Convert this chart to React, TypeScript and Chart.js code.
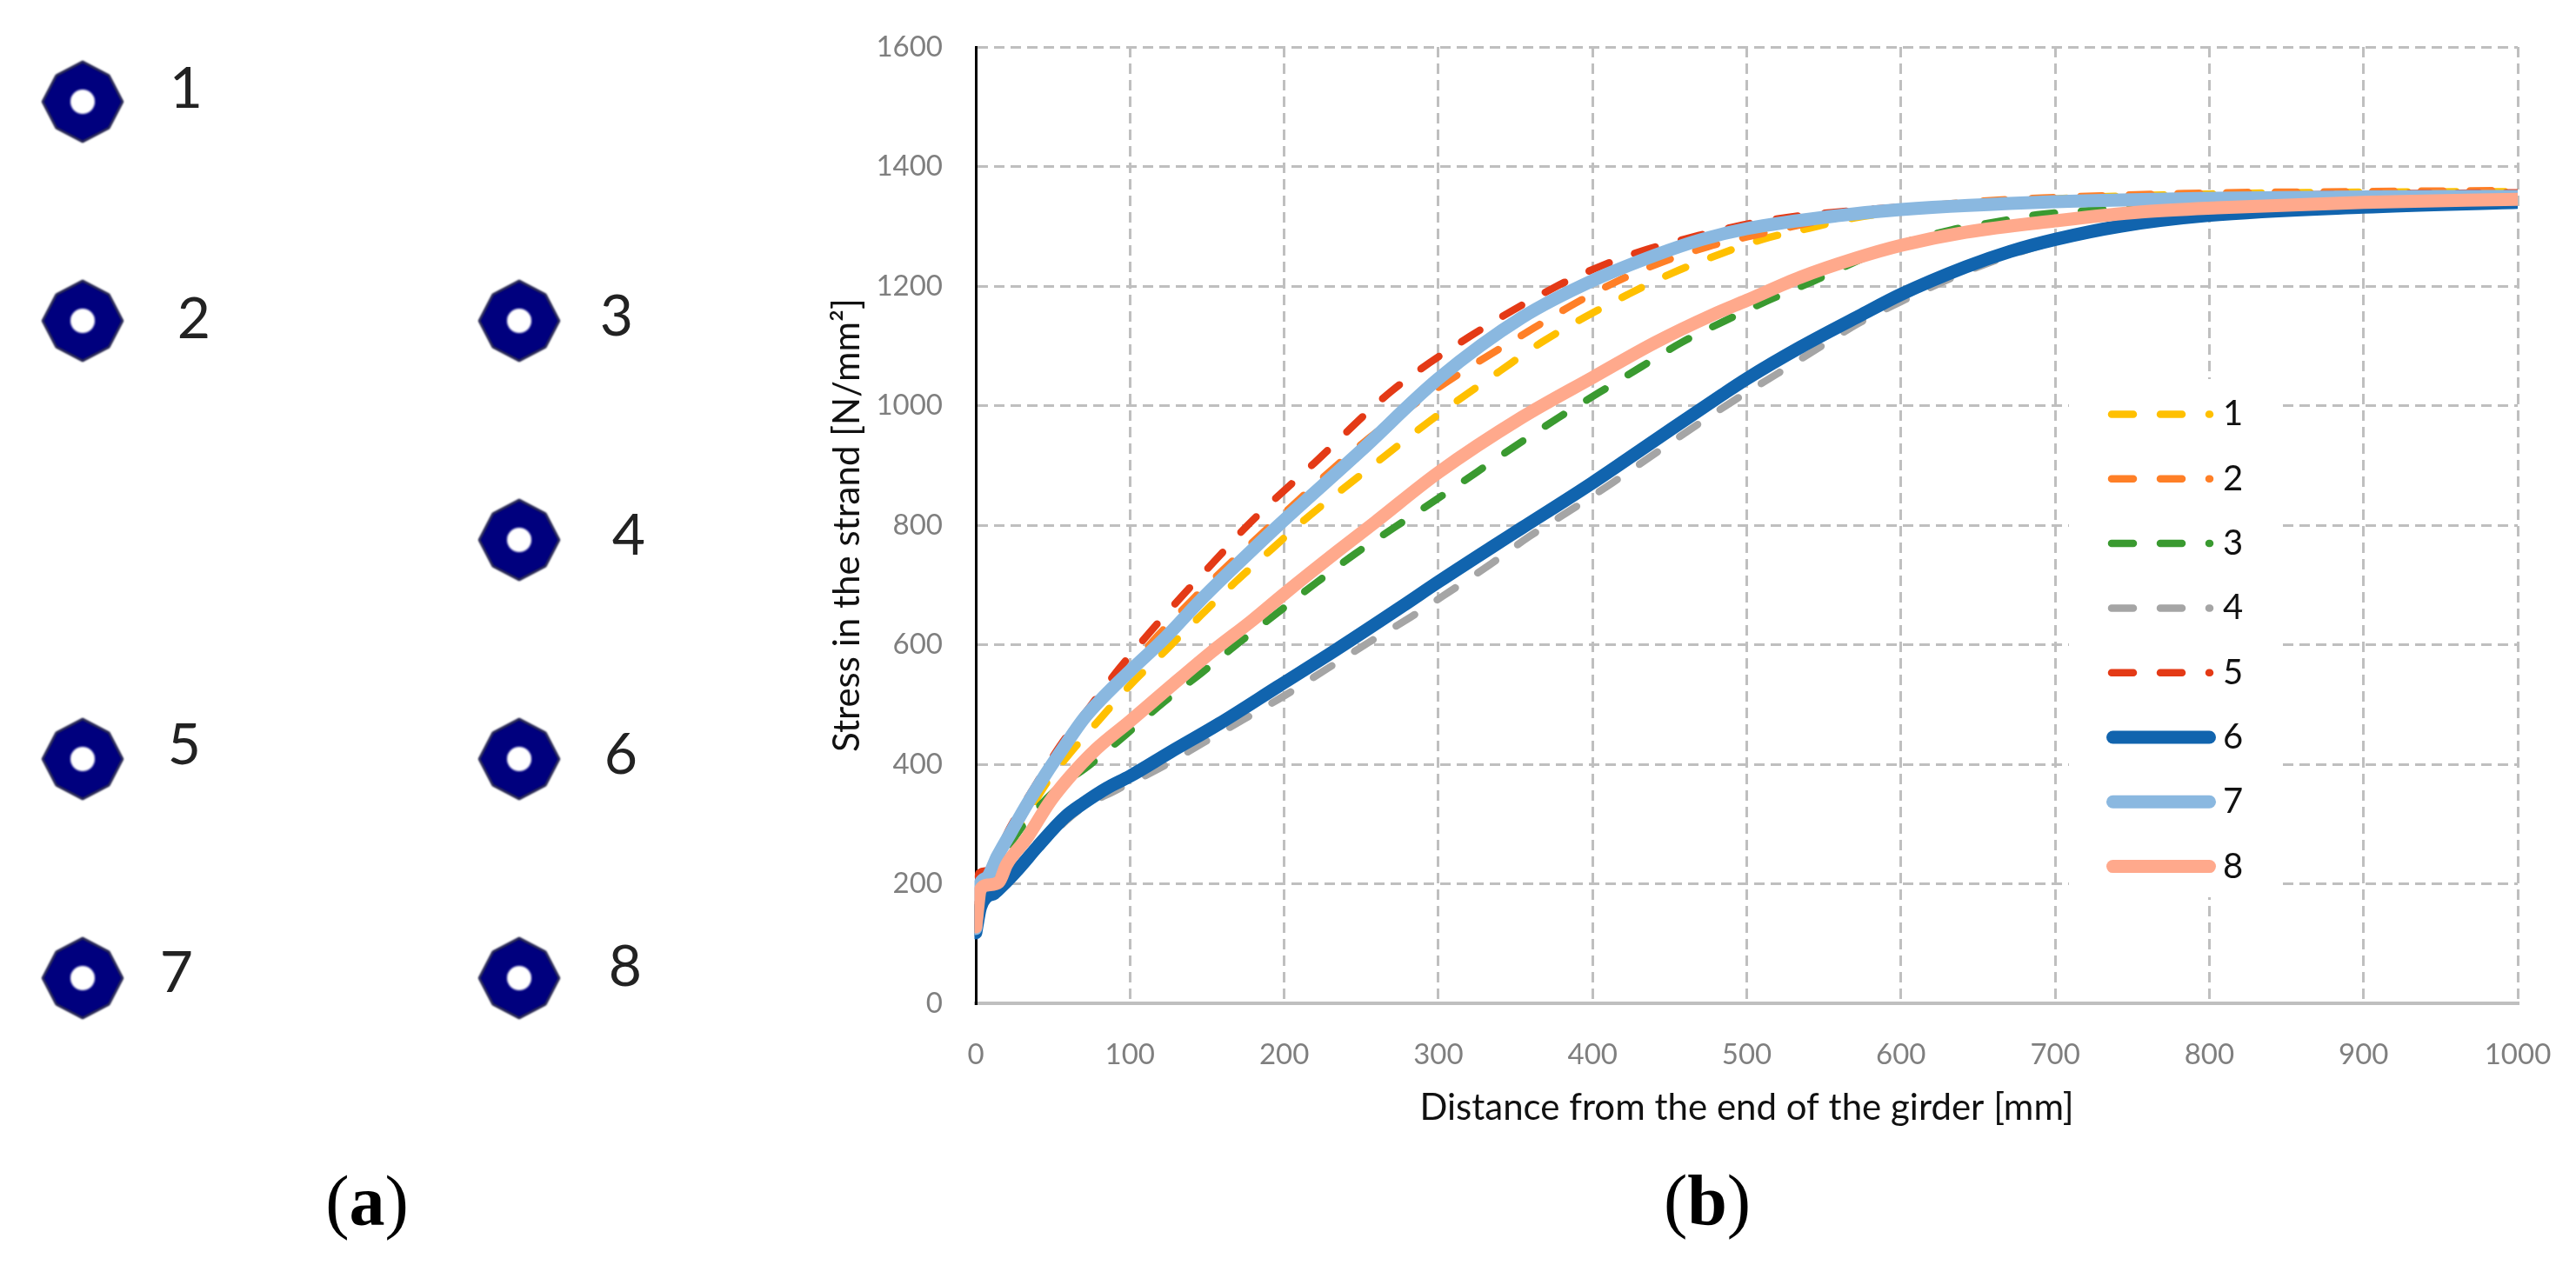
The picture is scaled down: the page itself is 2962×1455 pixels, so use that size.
import React, { useEffect, useRef } from "react";
import { Chart, registerables } from "chart.js";

Chart.register(...registerables);

const W = 2962;
const H = 1455;

// ---- Panel (b): [distance mm, stress N/mm2] ----
const strand1 = [[0,125],[2,195],[8,205],[15,240],[30,300],[45,365],[60,415],[80,474],[100,532],[123,590],[146,649],[168,704],[192,760],[211,804],[260,905],[300,985],[340,1058],[367,1106],[395,1148],[423,1186],[451,1221],[480,1251],[510,1278],[541,1297],[570,1314],[620,1330],[700,1346],[800,1354],[900,1357],[1000,1358]];
const strand2 = [[0,125],[2,200],[8,208],[15,250],[30,320],[50,410],[75,495],[100,562],[118,615],[140,674],[162,729],[200,820],[250,935],[300,1030],[362,1130],[388,1170],[416,1208],[445,1240],[475,1266],[505,1285],[560,1315],[642,1340],[700,1348],[785,1355],[900,1358],[1000,1360]];
const strand3 = [[0,125],[2,195],[8,200],[15,235],[30,295],[51,355],[74,399],[98,451],[122,504],[147,554],[171,604],[196,654],[221,704],[246,752],[272,797],[300,845],[356,943],[378,980],[405,1023],[431,1064],[458,1106],[486,1142],[514,1176],[543,1208],[590,1262],[633,1294],[661,1307],[691,1320],[720,1326],[800,1338],[900,1345],[1000,1348]];
const strand4 = [[0,118],[3,175],[8,182],[15,190],[30,235],[50,285],[68,325],[92,358],[119,393],[147,435],[173,474],[201,516],[228,560],[255,604],[282,646],[308,690],[334,735],[359,781],[387,827],[413,871],[439,917],[465,963],[492,1009],[519,1052],[545,1094],[572,1137],[600,1174],[650,1232],[700,1274],[800,1316],[900,1332],[1000,1338]];
const strand5 = [[0,130],[2,218],[8,222],[15,255],[22,293],[38,362],[55,432],[74,496],[93,560],[113,621],[134,682],[156,743],[176,799],[220,905],[270,1025],[320,1115],[377,1200],[406,1234],[435,1261],[465,1282],[497,1302],[527,1315],[600,1332],[700,1343],[800,1350],[900,1354],[1000,1356]];
const strand6 = [[0,118],[3,160],[7,178],[12,184],[17,196],[28,226],[40,262],[58,312],[70,335],[85,360],[100,380],[126,420],[158,468],[196,530],[234,592],[277,665],[300,705],[334,762],[354,795],[400,871],[441,943],[484,1018],[500,1045],[535,1098],[573,1150],[600,1186],[642,1232],[671,1258],[700,1278],[742,1300],[799,1318],[900,1332],[1000,1340]];
const strand7 = [[0,125],[2,195],[7,210],[14,246],[23,287],[33,332],[45,382],[58,432],[70,476],[83,513],[100,556],[123,612],[146,675],[171,738],[196,799],[250,925],[300,1045],[354,1147],[400,1209],[441,1252],[471,1278],[500,1296],[560,1318],[600,1328],[700,1341],[805,1347],[900,1349],[1000,1350]];
const strand8 = [[0,128],[3,190],[8,198],[15,203],[20,232],[33,276],[48,337],[60,376],[78,425],[100,472],[124,525],[153,588],[179,640],[200,685],[234,755],[259,805],[300,888],[354,980],[400,1047],[441,1106],[478,1152],[500,1176],[535,1215],[570,1246],[600,1268],[642,1290],[700,1309],[756,1324],[805,1331],[900,1340],[1000,1345]];

const seriesNames = ["1", "2", "3", "4", "5", "6", "7", "8"];
const seriesData = [strand1, strand2, strand3, strand4, strand5, strand6, strand7, strand8];
const seriesColors = ["#FFC000", "#FF7F27", "#3A9A30", "#A5A5A5", "#E43A16", "#1164AE", "#8AB8E0", "#FFA98C"];
const seriesDashed = [true, true, true, true, true, false, false, false];

// ---- Panel (a): strand layout, in columns and rows ----
const layoutNames = ["1", "2", "3", "4", "5", "6", "7", "8"];
const layoutCol = [0, 0, 1, 1, 0, 1, 0, 1];
const layoutRow = [4, 3, 3, 2, 1, 1, 0, 0];

const LABEL_DX = [119, 128, 112, 126, 117, 117, 108, 122];
const LABEL_DY = [-14, -1, -4, -4, -15, -4, -5, -12];

const LEFT = 1122, RIGHT = 2895, TOP = 54, BOTTOM = 1154;
const LEGEND = { x: 2379, y: 436, w: 243, h: 596, row0: 476.5, step: 74.3 };

function octagonPath(g: CanvasRenderingContext2D, size: number, R: number) {
  g.beginPath();
  for (let i = 0; i < 8; i++) {
    const a = (i * Math.PI) / 4;
    const r = i % 2 === 0 ? R : R * 0.93;
    const x = size / 2 + r * Math.cos(a);
    const y = size / 2 + r * Math.sin(a);
    i === 0 ? g.moveTo(x, y) : g.lineTo(x, y);
  }
  g.closePath();
}

function makeStrandImage() {
  const size = 104;
  const c = document.createElement("canvas");
  c.width = size; c.height = size;
  const g = c.getContext("2d")!;
  g.filter = "blur(0.8px)";
  octagonPath(g, size, 46);
  g.moveTo(size / 2 + 14, size / 2);
  g.arc(size / 2, size / 2, 14, 0, Math.PI * 2, true);
  g.fillStyle = "#00007E";
  g.fill("evenodd");
  g.strokeStyle = "#0a0a30";
  g.lineWidth = 2;
  octagonPath(g, size, 46);
  g.stroke();
  return c;
}

const legendPlugin = {
  id: "stressLegend",
  beforeDatasetsDraw(chart: any) {
    const g = chart.ctx;
    g.save();
    g.fillStyle = "#ffffff";
    g.fillRect(LEGEND.x, LEGEND.y, LEGEND.w, LEGEND.h);
    seriesNames.forEach((name, i) => {
      const y = LEGEND.row0 + i * LEGEND.step;
      g.beginPath();
      g.lineCap = "round";
      g.strokeStyle = seriesColors[i];
      if (seriesDashed[i]) {
        g.lineWidth = 8.5;
        g.setLineDash([25, 31]);
        g.moveTo(2428, y);
        g.lineTo(2541, y);
      } else {
        g.lineWidth = 15;
        g.setLineDash([]);
        g.moveTo(2429.5, y);
        g.lineTo(2540.5, y);
      }
      g.stroke();
      g.setLineDash([]);
      g.fillStyle = "#111111";
      g.font = "40px Lato";
      g.textAlign = "left";
      g.textBaseline = "middle";
      g.fillText(name, 2556, y);
    });
    g.restore();
  },
};

const layoutLabelPlugin = {
  id: "layoutLabels",
  afterDatasetsDraw(chart: any) {
    const g = chart.ctx;
    const sx = chart.scales.x, sy = chart.scales.y;
    g.save();
    g.fillStyle = "#222222";
    g.font = "66px Lato";
    g.textAlign = "center";
    g.textBaseline = "middle";
    layoutNames.forEach((name, i) => {
      g.fillText(name, sx.getPixelForValue(layoutCol[i]) + LABEL_DX[i], sy.getPixelForValue(layoutRow[i]) + LABEL_DY[i]);
    });
    g.restore();
  },
};

const captionStyle: React.CSSProperties = {
  position: "absolute",
  fontFamily: "'Liberation Serif'",
  fontSize: 82,
  lineHeight: "90px",
  color: "#000",
  transform: "translateX(-50%)",
  whiteSpace: "nowrap",
};

function zeroPadding(s: any) {
  s.paddingLeft = 0;
  s.paddingRight = 0;
  s.paddingTop = 0;
  s.paddingBottom = 0;
}

export default function App() {
  const leftRef = useRef<HTMLCanvasElement>(null);
  const rightRef = useRef<HTMLCanvasElement>(null);

  useEffect(() => {
    const colPx = 502, rowPx = 252, col0 = 95, row0 = 1125;
    const left = new Chart(leftRef.current!, {
      type: "scatter",
      data: {
        datasets: [
          {
            data: layoutCol.map((c, i) => ({ x: c, y: layoutRow[i] })),
            pointStyle: makeStrandImage() as any,
            pointRadius: 46,
            clip: false as any,
          },
        ],
      },
      options: {
        animation: false,
        responsive: false,
        events: [],
        layout: { padding: 0, autoPadding: false },
        plugins: { legend: { display: false }, tooltip: { enabled: false } },
        scales: {
          x: { display: false, min: -col0 / colPx, max: (W - col0) / colPx },
          y: { display: false, min: -(H - row0) / rowPx, max: row0 / rowPx },
        },
      },
      plugins: [layoutLabelPlugin],
    });

    const right = new Chart(rightRef.current!, {
      type: "line",
      data: {
        datasets: seriesData.map((pts, i) => ({
          label: seriesNames[i],
          data: pts.map(([x, y]) => ({ x, y })),
          borderColor: seriesColors[i],
          backgroundColor: seriesColors[i],
          borderWidth: seriesDashed[i] ? 8.5 : 15,
          borderDash: seriesDashed[i] ? [25, 31] : [],
          borderCapStyle: "round" as const,
          borderJoinStyle: "round" as const,
          pointRadius: 0,
          cubicInterpolationMode: "monotone" as const,
          order: seriesNames.length - i,
          clip: { left: 1.5, right: 0, top: 10, bottom: 10 } as any,
        })),
      },
      options: {
        animation: false,
        responsive: false,
        events: [],
        layout: { padding: { left: 0, top: TOP, right: W - RIGHT, bottom: 0 }, autoPadding: false },
        plugins: { legend: { display: false }, tooltip: { enabled: false } },
        scales: {
          x: {
            type: "linear",
            min: 0,
            max: 1000,
            afterFit: (s: any) => { s.height = H - BOTTOM; zeroPadding(s); },
            ticks: { stepSize: 100, color: "#7F7F7F", font: { family: "Lato", size: 33 }, padding: 40, maxRotation: 0, callback: (v: any) => String(v) },
            grid: { color: "#BFBFBF", lineWidth: 3, drawTicks: false },
            border: { color: "#BFBFBF", width: 4, dash: [12, 7] },
            title: { display: true, text: "Distance from the end of the girder [mm]", color: "#111111", font: { family: "Lato", size: 42 }, padding: { top: 0, bottom: 155 } },
          },
          y: {
            min: 0,
            max: 1600,
            afterFit: (s: any) => { s.width = LEFT; zeroPadding(s); },
            ticks: { stepSize: 200, color: "#7F7F7F", font: { family: "Lato", size: 33 }, padding: 38, callback: (v: any) => String(v) },
            grid: { color: "#BFBFBF", lineWidth: 3, drawTicks: false },
            border: { color: "#000000", width: 3, dash: [12, 7] },
            title: { display: true, text: "Stress in the strand [N/mm²]", color: "#111111", font: { family: "Lato", size: 42 }, padding: { top: 949, bottom: 0 } },
          },
        },
      },
      plugins: [legendPlugin],
    });

    return () => {
      left.destroy();
      right.destroy();
    };
  }, []);

  return (
    <div style={{ position: "absolute", left: 0, top: 0, width: W, height: H, background: "#fff", overflow: "hidden" }}>
      <canvas ref={leftRef} width={W} height={H} style={{ position: "absolute", left: 0, top: 0 }} />
      <canvas ref={rightRef} width={W} height={H} style={{ position: "absolute", left: 0, top: 0 }} />
      <div style={{ ...captionStyle, left: 422, top: 1337 }}>(<b>a</b>)</div>
      <div style={{ ...captionStyle, left: 1963, top: 1336 }}>(<b>b</b>)</div>
    </div>
  );
}
